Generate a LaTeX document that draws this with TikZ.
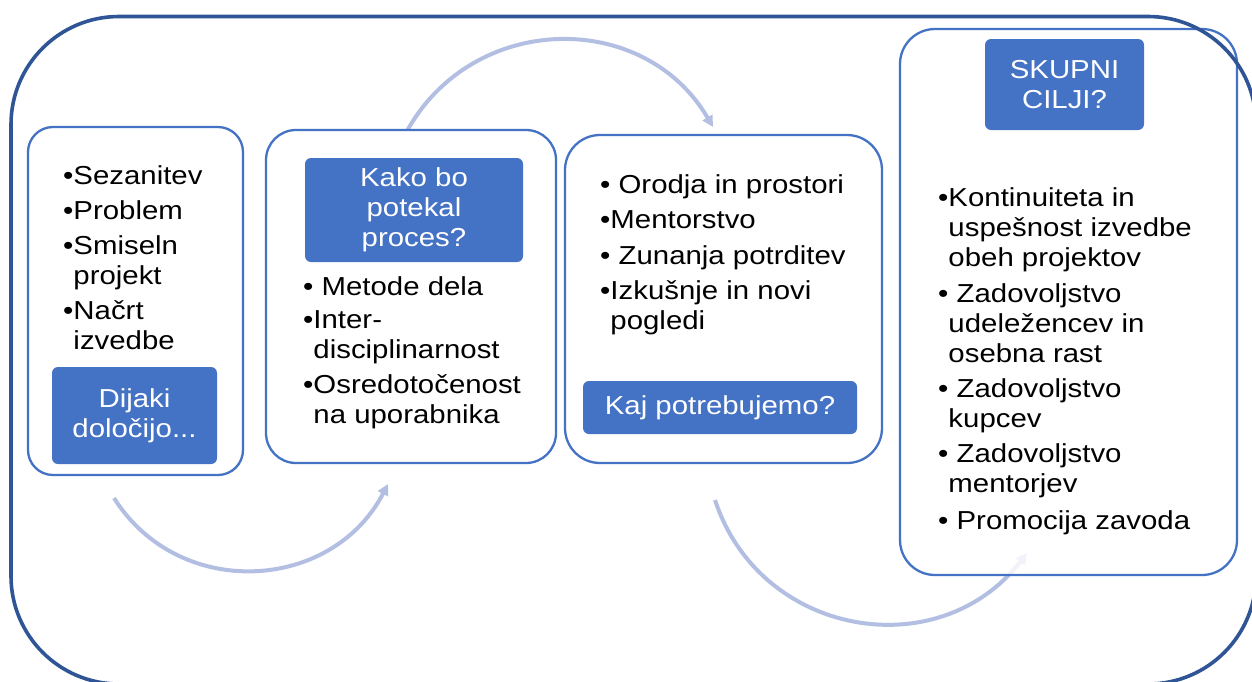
\documentclass[tikz,border=0pt]{standalone}
\usepackage{fontspec}
\setmainfont{Liberation Sans}[FakeStretch=1.13]
\usetikzlibrary{arrows.meta}
\definecolor{frameblue}{RGB}{47,85,151}
\definecolor{accent}{RGB}{68,114,196}
\definecolor{arrowblue}{RGB}{178,191,226}
\newcommand\bulind{\hphantom{•}}
\begin{document}
\begin{tikzpicture}[x=1pt,y=-1pt,
  box/.style={draw=accent, line width=2.3pt, fill=white, rounded corners=#1, inner sep=0pt},
  box/.default=30pt,
  titlebox/.style={fill=accent, rounded corners=6pt, inner sep=0pt, text=white, align=center,
    font=\fontsize{26}{30}\selectfont},
  listtext/.style={anchor=north west, inner sep=0pt, align=left, text=black,
    font=\fontsize{26}{30}\selectfont},
  flow/.style={draw=arrowblue, line width=4pt, -{Triangle[length=11pt,width=11pt]}},
  frame/.style={draw=frameblue, line width=3.6pt, rounded corners=108pt}
]
\useasboundingbox (0,0) rectangle (1252,681);
\clip (0,0) rectangle (1252,681);
\fill[white] (0,0) rectangle (1252,681);

% arrow end points
\coordinate (a1s) at (114,498);
\coordinate (a1e) at (388,484);
\coordinate (a2s) at (407,131);
\coordinate (a2e) at (713,127);
\coordinate (a3s) at (715,500);
\coordinate (a3e) at (1027,553);

\draw[flow] (a1s) .. controls (179,601) and (332,592) .. (a1e);
\draw[flow] (a2s) .. controls (473,12) and (644,9) .. (a2e);
\draw[flow] (a3s) .. controls (760,637) and (939,667) .. (a3e);

% main boxes
\node[box=25pt, minimum width=215pt, minimum height=348pt] (b1) at (135.5,301) {};
\node[box=30pt, minimum width=290pt, minimum height=333pt] (b2) at (411,296.5) {};
\node[box=35pt, minimum width=317pt, minimum height=328pt] (b3) at (723.5,299) {};
\node[box=35pt, fill opacity=0.82, minimum width=337pt, minimum height=546pt] (b4) at (1068.5,302) {};

% title boxes
\node[titlebox, minimum width=165pt, minimum height=97pt] (t1) at (134.5,415.5) {Dijaki\\določijo...};
\node[titlebox, minimum width=218pt, minimum height=104pt] (t2) at (414,210) {Kako bo\\potekal\\proces?};
\node[titlebox, minimum width=274pt, minimum height=53pt] (t3) at (720,407.5) {Kaj potrebujemo?};
\node[titlebox, minimum width=159pt, minimum height=91pt] (t4) at (1064.5,84.5) {SKUPNI\\CILJI?};

% lists
\node[listtext] (l1) at (63,165) {•Sezanitev\\[5pt]•Problem\\[5pt]•Smiseln\\\bulind projekt\\[5pt]•Načrt\\\bulind izvedbe};
\node[listtext] (l2) at (303,276) {• Metode dela\\[3pt]•Inter-\\\bulind disciplinarnost\\[5pt]•Osredotočenost\\\bulind na uporabnika};
\node[listtext] (l3) at (600,174) {• Orodja in prostori\\[5pt]•Mentorstvo\\[6pt]• Zunanja potrditev\\[5pt]•Izkušnje in novi\\\bulind pogledi};
\node[listtext] (l4) at (938,187) {•Kontinuiteta in\\\bulind uspešnost izvedbe\\\bulind obeh projektov\\[6pt]• Zadovoljstvo\\\bulind udeležencev in\\\bulind osebna rast\\[5pt]• Zadovoljstvo\\\bulind kupcev\\[5pt]• Zadovoljstvo\\\bulind mentorjev\\[7pt]• Promocija zavoda};

% outer frame
\draw[frame] (11,16.5) rectangle (1256,684);
\end{tikzpicture}
\end{document}
